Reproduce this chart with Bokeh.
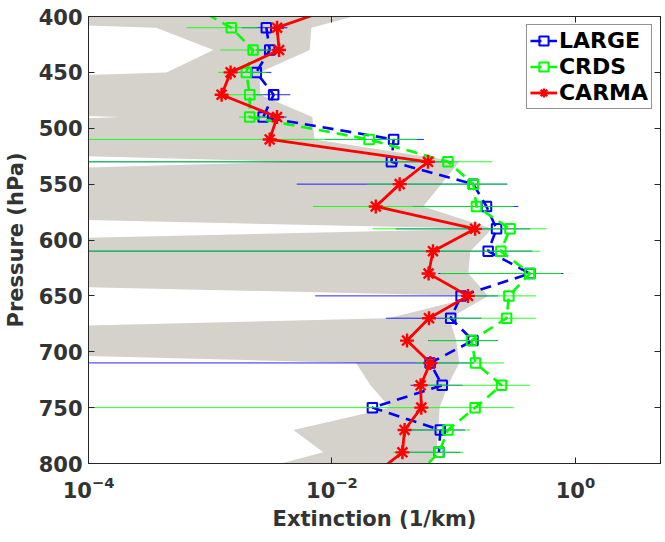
from bokeh.plotting import figure
from bokeh.models import (Range1d, FixedTicker, LinearAxis, LogAxis, Legend,
                          LegendItem, ColumnDataSource)
from bokeh.embed import file_html
from bokeh.resources import INLINE

# ---------------- data ----------------
pressure = [410, 430, 450, 470, 490, 510, 530, 550, 570, 590,
            610, 630, 650, 670, 690, 710, 730, 750, 770, 790]
# profile levels incl. one level beyond each end of the axis range
pressure_ext = [390] + pressure + [810]

large = [2.89e-3, 3.08e-3, 2.39e-3, 3.32e-3, 2.72e-3, 0.0321, 0.0308, 0.145, 0.186, 0.225,
         0.192, 0.423, 0.115, 0.0945, 0.144, 0.064, 0.0805, 0.0215, 0.0776, 0.0757]
large_lo = [1.81e-3, 2.39e-3, 1.40e-3, 2.25e-3, 2.47e-3, 8.73e-3, 1e-6, 5.13e-3, 0.046, 0.0334,
            1e-6, 0.0746, 7.29e-3, 0.0277, 0.0618, 1e-6, 0.0442, 0.020, 0.0424, 0.0393]
large_hi = [4.31e-3, 3.99e-3, 3.18e-3, 4.55e-3, 4.23e-3, 0.0571, 0.0993, 0.276, 0.339, 0.426,
            0.442, 0.796, 0.232, 0.169, 0.230, 0.148, 0.118, 0.023, 0.124, 0.113]

crds_ext = [6.95e-4, 1.49e-3, 2.25e-3, 1.98e-3, 2.11e-3, 2.11e-3, 0.0202, 0.0897, 0.145, 0.154,
            0.290, 0.244, 0.423, 0.284, 0.272, 0.140, 0.151, 0.247, 0.150, 0.0897, 0.0757, 0.050]
crds_lo = [6.41e-4, 1.21e-3, 1.16e-3, 1.40e-3, 1.73e-3, 1e-6, 1e-6, 0.0195, 6.97e-3, 0.0215,
           1e-6, 0.0776, 0.121, 0.0838, 0.0625, 0.0491, 0.0596, 1e-6, 0.0395, 0.0319]
crds_hi = [2.45e-3, 3.33e-3, 2.89e-3, 2.72e-3, 2.89e-3, 0.0499, 0.208, 0.276, 0.309, 0.578,
           0.513, 0.764, 0.473, 0.473, 0.225, 0.259, 0.423, 0.311, 0.136, 0.120]

carma_ext = [0.0119, 3.54e-3, 3.68e-3, 1.47e-3, 1.24e-3, 3.54e-3, 3.08e-3, 0.0615, 0.036, 0.0229,
             0.150, 0.0676, 0.0622, 0.131, 0.0627, 0.0414, 0.0643, 0.0535, 0.0542, 0.0395,
             0.0379, 0.0221]

# shaded CARMA range (lower / upper bound at each profile level)
range_lo = [1e-9, 3.61e-4, 1.06e-3, 4.37e-4, 1e-9, 1.80e-4, 1e-9, 4.68e-3, 1e-9, 1e-9, 0.191,
            1e-9, 1e-9, 0.158, 0.0290, 1e-9, 0.0158, 0.0207, 0.0301, 4.82e-3, 8.49e-3, 1.71e-3]
range_hi = [0.0327, 6.78e-3, 6.56e-3, 2.54e-3, 2.58e-3, 6.90e-3, 7.18e-3, 0.111, 0.0791, 0.0560,
            0.207, 0.137, 0.132, 0.192, 0.0920, 0.105, 0.111, 0.0897, 0.0766, 0.0748, 0.0719,
            0.050]

x_ticks = [1e-4, 1e-2, 1e0]
y_ticks = [400, 450, 500, 550, 600, 650, 700, 750, 800]

# ---------------- figure ----------------
FONT = "DejaVu Sans"
TXT = "#333333"
AX = "#262626"

p = figure(x_axis_type="log", x_range=Range1d(1e-4, 5), y_range=Range1d(800, 400),
           frame_width=572, frame_height=447, output_backend="svg",
           toolbar_location=None, min_border_left=82, min_border_top=16,
           min_border_right=2, min_border_bottom=0)
p.background_fill_color = "white"
p.border_fill_color = "white"
p.outline_line_color = AX
p.xgrid.visible = False
p.ygrid.visible = False

src_patch = ColumnDataSource(dict(
    x=range_lo + range_hi[::-1],
    y=pressure_ext + pressure_ext[::-1]))
p.patch("x", "y", source=src_patch, fill_color="#d5d1cb", line_color=None)

src_l = ColumnDataSource(dict(p=pressure, x=large, lo=large_lo, hi=large_hi))
src_c = ColumnDataSource(dict(p=pressure, x=crds_ext[1:-1], lo=crds_lo, hi=crds_hi))
src_ce = ColumnDataSource(dict(p=pressure_ext, x=crds_ext))
src_r = ColumnDataSource(dict(p=pressure_ext, x=carma_ext))

BLUE = "#0000ff"
GREEN = "#00ff00"
RED = "#ff0000"

p.segment(x0="lo", y0="p", x1="hi", y1="p", source=src_l, line_color=BLUE,
          line_width=1, line_alpha=0.85)
bl = p.line("x", "p", source=src_l, line_color=BLUE, line_width=2.6, line_dash="11 7")
bs = p.scatter("x", "p", source=src_l, marker="square", size=9.5, line_color=BLUE,
               line_width=2, fill_alpha=0)

p.segment(x0="lo", y0="p", x1="hi", y1="p", source=src_c, line_color=GREEN,
          line_width=1, line_alpha=0.85)
gl = p.line("x", "p", source=src_ce, line_color=GREEN, line_width=2.6, line_dash="11 7")
gs = p.scatter("x", "p", source=src_c, marker="square", size=9.5, line_color=GREEN,
               line_width=2, fill_alpha=0)

rl = p.line("x", "p", source=src_r, line_color=RED, line_width=2.8)
rs = p.scatter("x", "p", source=src_r, marker="asterisk", size=14, line_color=RED,
               line_width=2.4)

# ---------------- axes ----------------
def style(ax):
    ax.axis_line_color = AX
    ax.major_tick_line_color = AX
    ax.major_tick_in = 6
    ax.major_tick_out = 0
    ax.minor_tick_in = 0
    ax.minor_tick_out = 0
    ax.major_label_text_font = FONT
    ax.major_label_text_font_style = "bold"
    ax.major_label_text_font_size = "21px"
    ax.major_label_text_color = TXT
    ax.axis_label_text_font = FONT
    ax.axis_label_text_font_style = "bold"
    ax.axis_label_text_font_size = "21px"
    ax.axis_label_text_color = TXT

xa = p.xaxis[0]
style(xa)
xa.ticker = FixedTicker(ticks=x_ticks)
xa.axis_label = "Extinction (1/km)"
xa.major_label_standoff = 12
xa.axis_label_standoff = 6

ya = p.yaxis[0]
style(ya)
ya.ticker = FixedTicker(ticks=y_ticks)
ya.axis_label = "Pressure (hPa)"
ya.major_label_standoff = 6
ya.axis_label_standoff = 8

top = LogAxis(ticker=FixedTicker(ticks=x_ticks))
style(top)
top.major_label_text_font_size = "1px"
top.major_label_text_alpha = 0
top.major_label_standoff = 0
p.add_layout(top, "above")

right = LinearAxis(ticker=FixedTicker(ticks=y_ticks))
style(right)
right.major_label_text_font_size = "1px"
right.major_label_text_alpha = 0
right.major_label_standoff = 0
p.add_layout(right, "right")

# ---------------- legend ----------------
legend = Legend(items=[LegendItem(label="LARGE", renderers=[bl, bs]),
                       LegendItem(label="CRDS", renderers=[gl, gs]),
                       LegendItem(label="CARMA", renderers=[rl, rs])],
                location="top_right")
legend.label_text_font = FONT
legend.label_text_font_style = "bold"
legend.label_text_font_size = "22px"
legend.label_text_color = "black"
legend.border_line_color = AX
legend.border_line_width = 1
legend.background_fill_color = "white"
legend.background_fill_alpha = 1
legend.margin = 8
legend.padding = 3
legend.spacing = 1
legend.glyph_width = 27
legend.glyph_height = 23
legend.label_height = 23
legend.label_standoff = 2
p.add_layout(legend)

open("out.html", "w").write(file_html(p, INLINE))
